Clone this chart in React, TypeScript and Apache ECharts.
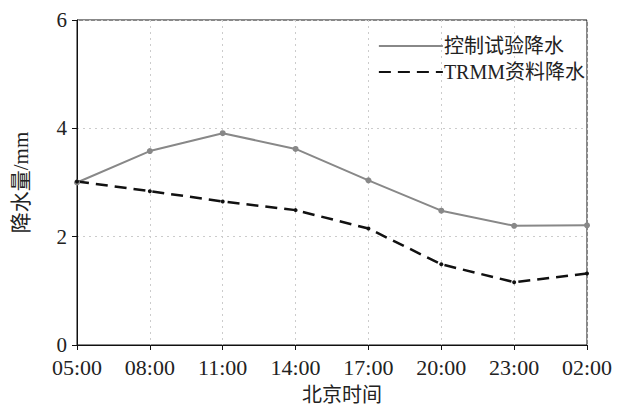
import React, { useEffect, useRef } from "react";
import * as echarts from "echarts";

const categories = ["05:00", "08:00", "11:00", "14:00", "17:00", "20:00", "23:00", "02:00"];
const controlValues = [3.0, 3.58, 3.91, 3.62, 3.04, 2.48, 2.2, 2.21];
const trmmValues = [3.02, 2.84, 2.65, 2.49, 2.15, 1.49, 1.16, 1.32];
const seriesNames = ["控制试验降水", "TRMM资料降水"];

const FONT = "'Liberation Serif', 'Noto Sans CJK SC', serif";

export default function App() {
  const ref = useRef<HTMLDivElement>(null);
  useEffect(() => {
    if (!ref.current) return;
    const chart = echarts.init(ref.current, undefined, { renderer: "svg" });
    chart.setOption({
      animation: false,
      backgroundColor: "#fff",
      textStyle: { fontFamily: FONT },
      grid: {
        left: 77,
        right: 30,
        top: 20,
        bottom: 60,
        show: true,
        borderColor: "#111",
        borderWidth: 1,
      },
      legend: {
        right: 27,
        top: 31,
        orient: "vertical",
        itemWidth: 64,
        itemHeight: 14,
        itemGap: 6,
        itemStyle: { opacity: 0, color: "transparent", borderWidth: 0 },
        textStyle: { fontFamily: FONT, fontSize: 20, color: "#222", padding: [0, 0, 0, -4] },
        data: seriesNames,
      },
      xAxis: {
        type: "category",
        data: categories,
        boundaryGap: false,
        name: "北京时间",
        nameLocation: "middle",
        nameGap: 40,
        nameTextStyle: { fontFamily: FONT, fontSize: 20, color: "#222", padding: [0, 0, 0, 20], verticalAlign: "top" },
        axisLine: { lineStyle: { color: "#111", width: 1 } },
        axisTick: { show: true, inside: false, length: 5, lineStyle: { color: "#111" } },
        axisLabel: { fontFamily: FONT, fontSize: 22, color: "#222", margin: 11 },
        splitLine: { show: true, lineStyle: { color: "#ccc", type: [2, 4], width: 1 } },
      },
      yAxis: {
        type: "value",
        min: 0,
        max: 6,
        interval: 2,
        name: "降水量/mm",
        nameLocation: "middle",
        nameGap: 46,
        nameTextStyle: { fontFamily: FONT, fontSize: 21, color: "#222" },
        axisLine: { show: true, lineStyle: { color: "#111", width: 1 } },
        axisTick: { show: true, inside: false, length: 5, lineStyle: { color: "#111" } },
        axisLabel: { fontFamily: FONT, fontSize: 21, color: "#222", margin: 10, lineHeight: 20 },
        splitLine: { show: true, lineStyle: { color: "#ccc", type: [2, 4], width: 1 } },
      },
      series: [
        {
          name: seriesNames[0],
          type: "line",
          data: controlValues,
          symbol: "circle",
          symbolSize: 6,
          itemStyle: { color: "#888" },
          lineStyle: { color: "#888", width: 2 },
        },
        {
          name: seriesNames[1],
          type: "line",
          data: trmmValues,
          symbol: "circle",
          symbolSize: 4,
          itemStyle: { color: "#111" },
          lineStyle: { color: "#111", width: 2.5, type: [12, 7] },
        },
      ],
    });
    return () => chart.dispose();
  }, []);
  return <div ref={ref} style={{ width: 617, height: 410, position: "absolute", left: 0, top: 0 }} />;
}
